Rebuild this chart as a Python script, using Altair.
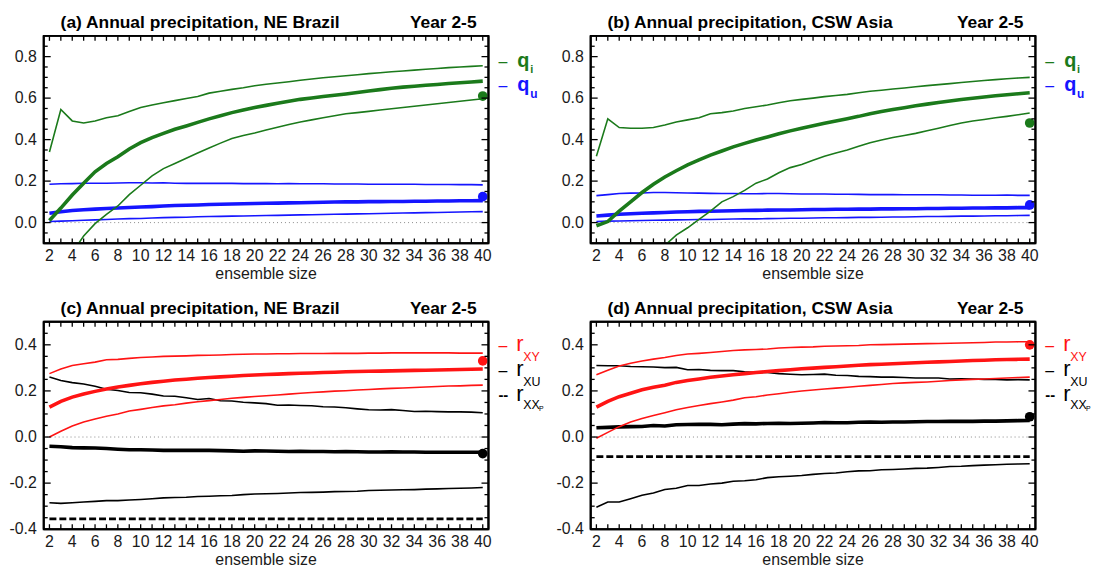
import altair as alt
import pandas as pd

# ---------------- data ----------------
ensemble_size = list(range(2, 41))

# (a) NE Brazil, q statistics
a_qi_hi = [0.34, 0.545, 0.49, 0.48, 0.49, 0.505, 0.515, 0.535, 0.555, 0.567, 0.578, 0.588, 0.598, 0.608,
           0.624, 0.633, 0.642, 0.65, 0.66, 0.667, 0.673, 0.679, 0.686, 0.692, 0.698, 0.703, 0.708, 0.713,
           0.718, 0.722, 0.727, 0.731, 0.735, 0.739, 0.743, 0.747, 0.75, 0.753, 0.756]
a_qi_mean = [0.01, 0.07, 0.133, 0.19, 0.245, 0.285, 0.317, 0.355, 0.385, 0.41, 0.43, 0.45, 0.466, 0.483,
             0.5, 0.515, 0.53, 0.543, 0.555, 0.565, 0.575, 0.585, 0.594, 0.601, 0.608, 0.614, 0.62, 0.627,
             0.634, 0.641, 0.648, 0.653, 0.657, 0.662, 0.666, 0.67, 0.674, 0.678, 0.682]
a_qi_lo = [-0.41, -0.26, -0.145, -0.065, -0.005, 0.04, 0.08, 0.135, 0.18, 0.225, 0.26, 0.285, 0.31, 0.335,
           0.36, 0.383, 0.405, 0.42, 0.432, 0.446, 0.46, 0.473, 0.485, 0.495, 0.505, 0.515, 0.525, 0.53,
           0.536, 0.543, 0.549, 0.555, 0.561, 0.567, 0.573, 0.579, 0.585, 0.591, 0.597]
a_qu_hi = [0.185, 0.187, 0.188, 0.19, 0.19, 0.19, 0.191, 0.192, 0.192, 0.191, 0.192, 0.19, 0.189, 0.189,
           0.19, 0.189, 0.189, 0.188, 0.188, 0.188, 0.187, 0.188, 0.187, 0.187, 0.187, 0.186, 0.186, 0.186,
           0.185, 0.185, 0.185, 0.185, 0.185, 0.184, 0.184, 0.184, 0.183, 0.183, 0.182]
a_qu_mean = [0.045, 0.052, 0.058, 0.062, 0.065, 0.068, 0.07, 0.073, 0.075, 0.077, 0.08, 0.082, 0.084, 0.085,
             0.087, 0.088, 0.09, 0.091, 0.092, 0.093, 0.094, 0.095, 0.096, 0.097, 0.098, 0.099, 0.1, 0.1,
             0.101, 0.101, 0.102, 0.102, 0.103, 0.103, 0.104, 0.104, 0.105, 0.105, 0.106]
a_qu_lo = [0.005, 0.007, 0.009, 0.011, 0.013, 0.015, 0.017, 0.019, 0.02, 0.022, 0.024, 0.025, 0.026, 0.028,
           0.029, 0.03, 0.031, 0.032, 0.033, 0.034, 0.035, 0.036, 0.037, 0.038, 0.039, 0.04, 0.041, 0.042,
           0.043, 0.044, 0.045, 0.046, 0.047, 0.048, 0.049, 0.05, 0.051, 0.052, 0.053]
a_qi_obs = 0.61
a_qu_obs = 0.125

# (b) CSW Asia, q statistics
b_qi_hi = [0.32, 0.5, 0.458, 0.455, 0.455, 0.458, 0.47, 0.485, 0.495, 0.505, 0.525, 0.53, 0.538, 0.55,
           0.558, 0.567, 0.578, 0.587, 0.594, 0.6, 0.607, 0.613, 0.618, 0.626, 0.633, 0.638, 0.644, 0.649,
           0.655, 0.66, 0.665, 0.67, 0.675, 0.68, 0.685, 0.689, 0.693, 0.697, 0.7]
b_qi_mean = [-0.015, 0.005, 0.055, 0.1, 0.145, 0.185, 0.22, 0.25, 0.278, 0.302, 0.325, 0.345, 0.365, 0.382,
             0.398, 0.413, 0.428, 0.442, 0.455, 0.467, 0.479, 0.49, 0.501, 0.512, 0.525, 0.535, 0.545, 0.554,
             0.563, 0.571, 0.579, 0.586, 0.593, 0.599, 0.605, 0.611, 0.616, 0.621, 0.626]
b_qi_lo = [-0.78, -0.6, -0.46, -0.35, -0.26, -0.18, -0.11, -0.06, -0.025, 0.015, 0.055, 0.1, 0.125, 0.155,
           0.19, 0.21, 0.24, 0.265, 0.28, 0.3, 0.32, 0.335, 0.35, 0.368, 0.385, 0.398, 0.41, 0.42,
           0.43, 0.443, 0.455, 0.468, 0.48, 0.49, 0.497, 0.505, 0.512, 0.52, 0.528]
b_qu_hi = [0.13, 0.135, 0.14, 0.142, 0.143, 0.145, 0.145, 0.144, 0.143, 0.142, 0.141, 0.14, 0.14, 0.139,
           0.139, 0.14, 0.14, 0.139, 0.138, 0.138, 0.138, 0.137, 0.137, 0.136, 0.135, 0.135, 0.135, 0.134,
           0.134, 0.134, 0.134, 0.133, 0.133, 0.132, 0.132, 0.132, 0.133, 0.131, 0.131]
b_qu_mean = [0.032, 0.036, 0.04, 0.043, 0.045, 0.047, 0.049, 0.051, 0.052, 0.054, 0.055, 0.056, 0.057, 0.058,
             0.059, 0.06, 0.061, 0.061, 0.062, 0.063, 0.063, 0.064, 0.064, 0.065, 0.065, 0.066, 0.066, 0.067,
             0.067, 0.068, 0.068, 0.069, 0.069, 0.07, 0.07, 0.071, 0.071, 0.072, 0.072]
b_qu_lo = [0.005, 0.007, 0.008, 0.009, 0.01, 0.011, 0.012, 0.013, 0.014, 0.015, 0.015, 0.016, 0.017, 0.018,
           0.018, 0.019, 0.02, 0.021, 0.021, 0.022, 0.023, 0.023, 0.024, 0.025, 0.025, 0.026, 0.027, 0.027,
           0.028, 0.029, 0.029, 0.03, 0.031, 0.031, 0.032, 0.033, 0.033, 0.034, 0.035]
b_qi_obs = 0.48
b_qu_obs = 0.085

# (c) NE Brazil, correlations
c_rxy_hi = [0.275, 0.295, 0.31, 0.318, 0.325, 0.335, 0.337, 0.341, 0.345, 0.347, 0.35, 0.351, 0.352, 0.354,
            0.355, 0.356, 0.358, 0.359, 0.36, 0.36, 0.361, 0.361, 0.362, 0.362, 0.362, 0.363, 0.363, 0.363,
            0.364, 0.364, 0.365, 0.365, 0.365, 0.365, 0.365, 0.365, 0.364, 0.364, 0.364]
c_rxy_mean = [0.13, 0.155, 0.173, 0.187, 0.198, 0.208, 0.217, 0.224, 0.231, 0.237, 0.242, 0.247, 0.251, 0.255,
              0.258, 0.261, 0.264, 0.267, 0.269, 0.271, 0.273, 0.275, 0.277, 0.278, 0.28, 0.281, 0.283, 0.284,
              0.285, 0.286, 0.287, 0.288, 0.289, 0.29, 0.291, 0.292, 0.293, 0.294, 0.295]
c_rxy_lo = [0.0, 0.025, 0.048, 0.065, 0.078, 0.09, 0.1, 0.113, 0.12, 0.128, 0.135, 0.14, 0.147, 0.153,
            0.158, 0.163, 0.168, 0.172, 0.176, 0.179, 0.182, 0.186, 0.19, 0.193, 0.196, 0.199, 0.201, 0.204,
            0.206, 0.209, 0.211, 0.213, 0.215, 0.217, 0.219, 0.221, 0.222, 0.224, 0.225]
c_rxu_hi = [0.26, 0.245, 0.236, 0.23, 0.22, 0.207, 0.202, 0.193, 0.192, 0.186, 0.178, 0.177, 0.17, 0.163,
            0.167, 0.157, 0.156, 0.151, 0.148, 0.145, 0.138, 0.139, 0.137, 0.136, 0.131, 0.13, 0.127, 0.122,
            0.118, 0.117, 0.119, 0.115, 0.111, 0.112, 0.11, 0.109, 0.109, 0.108, 0.105]
c_rxu_mean = [-0.04, -0.042, -0.046, -0.047, -0.048, -0.05, -0.053, -0.055, -0.055, -0.056, -0.058, -0.057,
              -0.058, -0.058, -0.058, -0.059, -0.06, -0.062, -0.06, -0.061, -0.062, -0.063, -0.062, -0.063,
              -0.063, -0.064, -0.063, -0.064, -0.065, -0.065, -0.064, -0.065, -0.065, -0.066, -0.066, -0.066,
              -0.066, -0.066, -0.066]
c_rxu_lo = [-0.285, -0.288, -0.285, -0.282, -0.279, -0.276, -0.276, -0.273, -0.271, -0.268, -0.264, -0.262,
            -0.261, -0.258, -0.257, -0.255, -0.254, -0.25, -0.247, -0.246, -0.245, -0.243, -0.241, -0.24,
            -0.239, -0.237, -0.236, -0.235, -0.232, -0.231, -0.23, -0.229, -0.228, -0.226, -0.225, -0.223,
            -0.222, -0.221, -0.219]
c_rxxp = -0.355
c_rxy_obs = 0.33
c_rxu_obs = -0.072

# (d) CSW Asia, correlations
d_rxy_hi = [0.27, 0.29, 0.308, 0.32, 0.33, 0.338, 0.345, 0.354, 0.36, 0.363, 0.367, 0.371, 0.375, 0.378,
            0.38, 0.382, 0.386, 0.388, 0.39, 0.391, 0.394, 0.395, 0.396, 0.397, 0.4, 0.401, 0.402, 0.403,
            0.404, 0.405, 0.406, 0.407, 0.408, 0.409, 0.41, 0.412, 0.412, 0.413, 0.413]
d_rxy_mean = [0.13, 0.155, 0.175, 0.19, 0.205, 0.216, 0.225, 0.237, 0.245, 0.252, 0.259, 0.265, 0.27, 0.275,
              0.28, 0.284, 0.288, 0.292, 0.296, 0.299, 0.302, 0.305, 0.308, 0.311, 0.314, 0.316, 0.318, 0.32,
              0.322, 0.324, 0.326, 0.328, 0.33, 0.332, 0.333, 0.335, 0.336, 0.337, 0.338]
d_rxy_lo = [-0.005, 0.02, 0.045, 0.065, 0.08, 0.093, 0.105, 0.118, 0.128, 0.137, 0.145, 0.152, 0.16, 0.17,
            0.175, 0.182, 0.188, 0.194, 0.2, 0.204, 0.208, 0.212, 0.216, 0.22, 0.224, 0.228, 0.232, 0.235,
            0.237, 0.239, 0.242, 0.245, 0.248, 0.25, 0.252, 0.254, 0.256, 0.258, 0.26]
d_rxu_hi = [0.31, 0.309, 0.309, 0.306, 0.305, 0.304, 0.301, 0.302, 0.292, 0.293, 0.289, 0.288, 0.288, 0.283,
            0.28, 0.28, 0.275, 0.272, 0.27, 0.271, 0.273, 0.268, 0.267, 0.263, 0.262, 0.26, 0.26, 0.258,
            0.256, 0.256, 0.256, 0.252, 0.253, 0.252, 0.25, 0.25, 0.248, 0.249, 0.248]
d_rxu_mean = [0.04, 0.042, 0.044, 0.045, 0.046, 0.05, 0.048, 0.053, 0.054, 0.055, 0.055, 0.053, 0.056, 0.058,
              0.057, 0.059, 0.06, 0.059, 0.06, 0.061, 0.063, 0.062, 0.062, 0.064, 0.065, 0.064, 0.065, 0.065,
              0.066, 0.067, 0.067, 0.068, 0.068, 0.068, 0.069, 0.069, 0.07, 0.071, 0.072]
d_rxu_lo = [-0.305, -0.282, -0.282, -0.268, -0.253, -0.243, -0.228, -0.222, -0.21, -0.21, -0.204, -0.2,
            -0.192, -0.19, -0.185, -0.176, -0.172, -0.17, -0.167, -0.162, -0.158, -0.156, -0.151, -0.147,
            -0.146, -0.142, -0.141, -0.139, -0.136, -0.135, -0.132, -0.128, -0.127, -0.124, -0.122, -0.12,
            -0.118, -0.117, -0.116]
d_rxxp = -0.085
d_rxy_obs = 0.40
d_rxu_obs = 0.088

# axis ticks / labels
x_tick_positions = list(range(2, 41))
x_label_values = list(range(2, 41, 2))
y_labels_top = [0.0, 0.2, 0.4, 0.6, 0.8]
y_label_text_top = ["0.0", "0.2", "0.4", "0.6", "0.8"]
y_minor_top = [-0.05, 0.05, 0.1, 0.15, 0.25, 0.3, 0.35, 0.45, 0.5, 0.55, 0.65, 0.7, 0.75, 0.85]
y_labels_bot = [-0.4, -0.2, 0.0, 0.2, 0.4]
y_label_text_bot = ["-0.4", "-0.2", "0.0", "0.2", "0.4"]
y_minor_bot = [-0.35, -0.3, -0.25, -0.15, -0.1, -0.05, 0.05, 0.1, 0.15, 0.25, 0.3, 0.35, 0.45]
x_domain = [1.5, 40.5]
y_domain_top = [-0.1, 0.9]
y_domain_bot = [-0.4, 0.5]

GREEN = "#1b7a1b"
BLUE = "#1515ff"
RED = "#ff1414"
BLACK = "#000000"
FONT = "Liberation Sans"
W, H = 448, 209
THIN, THICK = 1.6, 3.6

one = pd.DataFrame({"k": [0]})


def txt(s, x, y, size, color, weight="bold", align="left", baseline="alphabetic"):
    return alt.Chart(one).mark_text(
        text=s, font=FONT, fontSize=size, fontWeight=weight, color=color,
        align=align, baseline=baseline
    ).encode(x=alt.value(x), y=alt.value(y))


def panel(title, ydom, ylab, ylabtxt, yminor, series, dots, dashed, legend):
    rows = []
    for name, vals, color, sw in series:
        for xv, yv in zip(ensemble_size, vals):
            rows.append({"x": xv, "y": yv, "s": name, "c": color, "w": sw})
    df = pd.DataFrame(rows)

    xscale = alt.Scale(domain=x_domain, nice=False, zero=False)
    yscale = alt.Scale(domain=ydom, nice=False, zero=False)

    def X(f):
        return alt.X(f, scale=xscale, axis=None)

    def Y(f):
        return alt.Y(f, scale=yscale, axis=None)

    # data units per pixel, used for the lengths of the inward ticks
    ux = (x_domain[1] - x_domain[0]) / W
    uy = (ydom[1] - ydom[0]) / H

    layers = []
    layers.append(alt.Chart(one).mark_rule(color="#8a8a8a", strokeDash=[1, 3], strokeWidth=1).encode(
        y=alt.datum(0, scale=yscale, axis=None)))
    layers.append(alt.Chart(df).mark_line(clip=True, strokeCap="butt").encode(
        x=X("x:Q"), y=Y("y:Q"),
        detail="s:N",
        color=alt.Color("c:N", scale=None),
        strokeWidth=alt.StrokeWidth("w:Q", scale=None),
    ))
    if dashed is not None:
        ddf = pd.DataFrame({"x": [2], "x2": [40], "y": [dashed]})
        layers.append(alt.Chart(ddf).mark_rule(color=BLACK, strokeWidth=2.6, strokeDash=[7, 3]).encode(
            x=X("x:Q"), x2="x2:Q", y=Y("y:Q")))
    dotdf = pd.DataFrame({"x": [40] * len(dots), "y": [d[0] for d in dots], "c": [d[1] for d in dots]})
    layers.append(alt.Chart(dotdf).mark_circle(size=95, opacity=1).encode(
        x=X("x:Q"), y=Y("y:Q"), color=alt.Color("c:N", scale=None)))

    # frame: four rules at the domain limits, encoded through the scales
    frame = pd.DataFrame({
        "x": [x_domain[0], x_domain[0], x_domain[0], x_domain[1]],
        "x2": [x_domain[1], x_domain[1], x_domain[0], x_domain[1]],
        "y": [ydom[0], ydom[1], ydom[0], ydom[0]],
        "y2": [ydom[0], ydom[1], ydom[1], ydom[1]],
    })
    layers.append(alt.Chart(frame).mark_rule(color=BLACK, strokeWidth=2).encode(
        x=X("x:Q"), x2="x2:Q", y=Y("y:Q"), y2="y2:Q"))

    # inward ticks, also through the scales
    trows = []
    for t in x_tick_positions:
        trows.append({"x": t, "x2": t, "y": ydom[1], "y2": ydom[1] - 5 * uy})
        trows.append({"x": t, "x2": t, "y": ydom[0], "y2": ydom[0] + 5 * uy})
    for vals, ln in [(ylab, 7), (yminor, 4)]:
        for t in vals:
            trows.append({"x": x_domain[0], "x2": x_domain[0] + ln * ux, "y": t, "y2": t})
            trows.append({"x": x_domain[1], "x2": x_domain[1] - ln * ux, "y": t, "y2": t})
    layers.append(alt.Chart(pd.DataFrame(trows)).mark_rule(color=BLACK, strokeWidth=1.3).encode(
        x=X("x:Q"), x2="x2:Q", y=Y("y:Q"), y2="y2:Q"))

    # tick labels and axis title, placed through the scales
    xl = pd.DataFrame({"v": x_label_values, "s": [str(v) for v in x_label_values]})
    layers.append(alt.Chart(xl).mark_text(font=FONT, fontSize=16, color="#1a1a1a", baseline="top",
                                          align="center").encode(
        x=X("v:Q"), y=alt.value(H + 5), text="s:N"))
    yl = pd.DataFrame({"v": ylab, "s": ylabtxt})
    layers.append(alt.Chart(yl).mark_text(font=FONT, fontSize=16, color="#1a1a1a", baseline="middle",
                                          align="right").encode(
        y=Y("v:Q"), x=alt.value(-7), text="s:N"))
    layers.append(txt("ensemble size", W / 2, H + 31, 16, "#1a1a1a", "normal", "center", "middle"))

    # panel titles
    layers.append(txt(title, 17, -8, 17.5, BLACK))
    layers.append(txt("Year 2-5", W - 12, -8, 17.5, BLACK, align="right"))

    # legend
    for item in legend:
        layers.append(txt(*item))

    return alt.layer(*layers).properties(width=W, height=H)


leg_q = [
    ("\u2013", W + 10, 31, 16, GREEN, "normal"),
    ("q", W + 29, 31, 20, GREEN),
    ("i", W + 42, 37.5, 11, GREEN),
    ("\u2013", W + 10, 56, 16, BLUE, "normal"),
    ("q", W + 29, 56, 20, BLUE),
    ("u", W + 42, 63, 12, BLUE),
]
leg_r = [
    ("\u2013", W + 10, 29, 16, RED, "normal"),
    ("r", W + 28, 29.5, 22, RED, "normal"),
    ("XY", W + 35, 39.5, 12.5, RED, "normal"),
    ("\u2013", W + 10, 54.5, 16, BLACK, "normal"),
    ("r", W + 28, 55, 22, BLACK, "normal"),
    ("XU", W + 35, 64.5, 12.5, BLACK, "normal"),
    ("--", W + 10, 79, 15, BLACK, "bold"),
    ("r", W + 28, 79.5, 22, BLACK, "normal"),
    ("XX", W + 35, 88, 12.5, BLACK, "normal"),
    ("P", W + 51, 90, 7, BLACK, "normal"),
]

pa = panel("(a) Annual precipitation, NE Brazil", y_domain_top, y_labels_top, y_label_text_top, y_minor_top,
           [("qu_lo", a_qu_lo, BLUE, THIN), ("qu_hi", a_qu_hi, BLUE, THIN), ("qu_mean", a_qu_mean, BLUE, THICK),
            ("qi_lo", a_qi_lo, GREEN, THIN), ("qi_hi", a_qi_hi, GREEN, THIN), ("qi_mean", a_qi_mean, GREEN, THICK)],
           [(a_qi_obs, GREEN), (a_qu_obs, BLUE)], None, leg_q)
pb = panel("(b) Annual precipitation, CSW Asia", y_domain_top, y_labels_top, y_label_text_top, y_minor_top,
           [("qu_lo", b_qu_lo, BLUE, THIN), ("qu_hi", b_qu_hi, BLUE, THIN), ("qu_mean", b_qu_mean, BLUE, THICK),
            ("qi_lo", b_qi_lo, GREEN, THIN), ("qi_hi", b_qi_hi, GREEN, THIN), ("qi_mean", b_qi_mean, GREEN, THICK)],
           [(b_qi_obs, GREEN), (b_qu_obs, BLUE)], None, leg_q)
pc = panel("(c) Annual precipitation, NE Brazil", y_domain_bot, y_labels_bot, y_label_text_bot, y_minor_bot,
           [("rxu_lo", c_rxu_lo, BLACK, THIN), ("rxu_hi", c_rxu_hi, BLACK, THIN), ("rxu_mean", c_rxu_mean, BLACK, THICK),
            ("rxy_lo", c_rxy_lo, RED, THIN), ("rxy_hi", c_rxy_hi, RED, THIN), ("rxy_mean", c_rxy_mean, RED, THICK)],
           [(c_rxy_obs, RED), (c_rxu_obs, BLACK)], c_rxxp, leg_r)
pd_ = panel("(d) Annual precipitation, CSW Asia", y_domain_bot, y_labels_bot, y_label_text_bot, y_minor_bot,
            [("rxu_lo", d_rxu_lo, BLACK, THIN), ("rxu_hi", d_rxu_hi, BLACK, THIN), ("rxu_mean", d_rxu_mean, BLACK, THICK),
             ("rxy_lo", d_rxy_lo, RED, THIN), ("rxy_hi", d_rxy_hi, RED, THIN), ("rxy_mean", d_rxy_mean, RED, THICK)],
            [(d_rxy_obs, RED), (d_rxu_obs, BLACK)], d_rxxp, leg_r)

chart = alt.concat(pa, pb, pc, pd_, columns=2, spacing={"row": 16, "column": 10}).properties(
    padding={"left": 0, "top": 3, "right": 0, "bottom": 0}
).configure_view(stroke="black", strokeWidth=2)

chart.save("out.html", embed_options={"renderer": "svg", "actions": False})
